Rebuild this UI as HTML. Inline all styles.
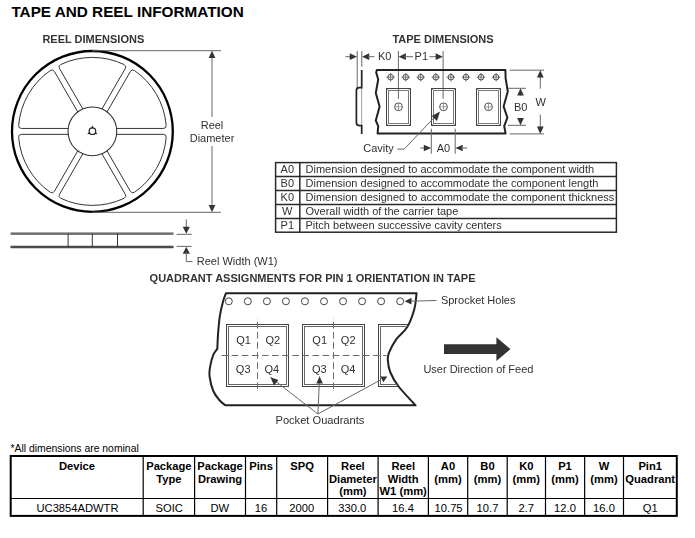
<!DOCTYPE html>
<html><head><meta charset="utf-8">
<style>
html,body{margin:0;padding:0;background:#fff;width:695px;height:538px;overflow:hidden}
svg.a,svg.b{display:block;position:absolute;left:0;top:0}
svg.a{will-change:transform}
text{font-family:"Liberation Sans", sans-serif}
.t{fill:#303030;font-size:11px}
.h{fill:#333;font-size:11px;font-weight:bold}
.tb{fill:#000;font-size:11.2px;font-weight:bold}
.td{fill:#000;font-size:11.2px}
.dl{stroke:#666;stroke-width:1;fill:none}
.ar{fill:#333}
</style></head><body>
<svg class="b" width="695" height="538" viewBox="0 0 695 538">
<text x="11.4" y="16.8" style="font-size:15.3px;font-weight:bold;fill:#000">TAPE AND REEL INFORMATION</text>
<!-- bottom table -->
<text x="10.5" y="452" style="font-size:10.4px;fill:#000">*All dimensions are nominal</text>
<g stroke="#000" fill="none">
<rect x="10.7" y="456" width="666.1" height="59.9" stroke-width="2"/>
<line x1="10.7" y1="498.5" x2="676.8" y2="498.5" stroke-width="1.2"/>
<g stroke-width="1.2">
<line x1="143.2" y1="456" x2="143.2" y2="515.9"/>
<line x1="194.6" y1="456" x2="194.6" y2="515.9"/>
<line x1="245.5" y1="456" x2="245.5" y2="515.9"/>
<line x1="276.7" y1="456" x2="276.7" y2="515.9"/>
<line x1="327.6" y1="456" x2="327.6" y2="515.9"/>
<line x1="378.1" y1="456" x2="378.1" y2="515.9"/>
<line x1="428.4" y1="456" x2="428.4" y2="515.9"/>
<line x1="467.7" y1="456" x2="467.7" y2="515.9"/>
<line x1="507.2" y1="456" x2="507.2" y2="515.9"/>
<line x1="545.5" y1="456" x2="545.5" y2="515.9"/>
<line x1="584.65" y1="456" x2="584.65" y2="515.9"/>
<line x1="623.5" y1="456" x2="623.5" y2="515.9"/>
</g></g>
<g class="tb" text-anchor="middle">
<text x="77" y="470.1">Device</text>
<text x="168.9" y="470.1">Package</text><text x="168.9" y="482.6">Type</text>
<text x="220" y="470.1">Package</text><text x="220" y="482.6">Drawing</text>
<text x="261.1" y="470.1">Pins</text>
<text x="302.1" y="470.1">SPQ</text>
<text x="352.9" y="470.1">Reel</text><text x="352.9" y="482.6">Diameter</text><text x="352.9" y="494.7">(mm)</text>
<text x="403.2" y="470.1">Reel</text><text x="403.2" y="482.6">Width</text><text x="403.2" y="494.7">W1 (mm)</text>
<text x="448" y="470.1">A0</text><text x="448" y="482.6">(mm)</text>
<text x="487.5" y="470.1">B0</text><text x="487.5" y="482.6">(mm)</text>
<text x="526.3" y="470.1">K0</text><text x="526.3" y="482.6">(mm)</text>
<text x="565" y="470.1">P1</text><text x="565" y="482.6">(mm)</text>
<text x="604" y="470.1">W</text><text x="604" y="482.6">(mm)</text>
<text x="650.2" y="470.1">Pin1</text><text x="650.2" y="482.6">Quadrant</text>
</g>
<g class="td" text-anchor="middle">
<text x="77.5" y="511.6">UC3854ADWTR</text>
<text x="169.2" y="511.6">SOIC</text>
<text x="219.8" y="511.6">DW</text>
<text x="261.1" y="511.6">16</text>
<text x="301.8" y="511.6">2000</text>
<text x="352.3" y="511.6">330.0</text>
<text x="403" y="511.6">16.4</text>
<text x="448.6" y="511.6">10.75</text>
<text x="487.5" y="511.6">10.7</text>
<text x="526.3" y="511.6">2.7</text>
<text x="565" y="511.6">12.0</text>
<text x="604" y="511.6">16.0</text>
<text x="650.2" y="511.6">Q1</text>
</g>
</svg>
<svg class="a" width="695" height="538" viewBox="0 0 695 538">
<text x="42.4" y="42.6" class="h">REEL DIMENSIONS</text>
<text x="392.4" y="42.6" class="h">TAPE DIMENSIONS</text>

<circle cx="92.4" cy="131.4" r="80.4" fill="none" stroke="#000" stroke-width="2.3"/>
<circle cx="92.4" cy="131.4" r="24.35" fill="none" stroke="#333" stroke-width="1.1"/>
<path d="M116.57,134.35 L163.34,134.35 Q166.34,134.35 166.16,137.34 A74,74 0 0 1 134.43,192.31 Q131.93,193.96 130.42,191.36 L107.04,150.86" fill="none" stroke="#333" stroke-width="1"/>
<path d="M101.93,153.81 L125.31,194.31 Q126.82,196.91 124.13,198.25 A74,74 0 0 1 60.67,198.25 Q57.98,196.91 59.49,194.31 L82.87,153.81" fill="none" stroke="#333" stroke-width="1"/>
<path d="M77.76,150.86 L54.38,191.36 Q52.87,193.96 50.37,192.31 A74,74 0 0 1 18.64,137.34 Q18.46,134.35 21.46,134.35 L68.23,134.35" fill="none" stroke="#333" stroke-width="1"/>
<path d="M68.23,128.45 L21.46,128.45 Q18.46,128.45 18.64,125.46 A74,74 0 0 1 50.37,70.49 Q52.87,68.84 54.38,71.44 L77.76,111.94" fill="none" stroke="#333" stroke-width="1"/>
<path d="M82.87,108.99 L59.49,68.49 Q57.98,65.89 60.67,64.55 A74,74 0 0 1 124.13,64.55 Q126.82,65.89 125.31,68.49 L101.93,108.99" fill="none" stroke="#333" stroke-width="1"/>
<path d="M107.04,111.94 L130.42,71.44 Q131.93,68.84 134.43,70.49 A74,74 0 0 1 166.16,125.46 Q166.34,128.45 163.34,128.45 L116.57,128.45" fill="none" stroke="#333" stroke-width="1"/>
<circle cx="92.4" cy="131.2" r="3.3" fill="none" stroke="#222" stroke-width="1.2"/>
<polygon points="93.5,128.2 91.3,128.2 92.4,125.2" fill="#222"/>
<polygon points="94.45,133.65 95.55,131.75 97.6,134.2" fill="#222"/>
<polygon points="89.25,131.75 90.35,133.65 87.2,134.2" fill="#222"/>

<!-- reel diameter dim -->
<line x1="92" y1="50.7" x2="221" y2="50.7" class="dl"/>
<line x1="92" y1="212.3" x2="221" y2="212.3" class="dl"/>
<line x1="212" y1="56" x2="212" y2="117" class="dl"/>
<line x1="212" y1="146" x2="212" y2="207" class="dl"/>
<polygon points="212.00,50.70 208.64,57.98 215.36,57.98" class="ar"/>
<polygon points="212.00,212.30 208.64,205.02 215.36,205.02" class="ar"/>
<text x="212" y="129" class="t" text-anchor="middle">Reel</text>
<text x="212" y="141.6" class="t" text-anchor="middle">Diameter</text>

<!-- reel side view -->
<defs><linearGradient id="bar" x1="0" y1="0" x2="0" y2="1"><stop offset="0" stop-color="#999"/><stop offset="1" stop-color="#444"/></linearGradient></defs>
<rect x="10.4" y="232.2" width="163.3" height="2.6" rx="1" fill="url(#bar)"/>
<rect x="10.4" y="245.8" width="163.3" height="2.4" rx="1" fill="#4a4a4a"/>
<line x1="68.1" y1="233.6" x2="68.1" y2="247" stroke="#333" stroke-width="1"/>
<line x1="92.3" y1="233.6" x2="92.3" y2="247" stroke="#333" stroke-width="1"/>
<line x1="117.5" y1="233.6" x2="117.5" y2="247" stroke="#333" stroke-width="1"/>
<!-- reel width dim -->
<line x1="186.3" y1="219.4" x2="186.3" y2="228" class="dl"/>
<polygon points="186.30,233.80 182.72,226.86 189.88,226.86" class="ar"/>
<line x1="176.6" y1="234.3" x2="191.7" y2="234.3" class="dl"/>
<line x1="176.6" y1="246.4" x2="191.7" y2="246.4" class="dl"/>
<polygon points="186.30,246.80 182.72,253.74 189.88,253.74" class="ar"/>
<polyline points="186.3,252 186.3,261.6 192.5,261.6" class="dl"/>
<text x="196.8" y="264.7" class="t">Reel Width (W1)</text>

<!-- tape dims -->
<!-- K0 -->
<line x1="345.4" y1="56.7" x2="351" y2="56.7" class="dl"/>
<polygon points="357.00,56.70 349.72,53.34 349.72,60.06" class="ar"/>
<line x1="357.2" y1="51" x2="357.2" y2="88" class="dl"/>
<line x1="361.8" y1="51" x2="361.8" y2="66.8" class="dl"/>
<polygon points="362.00,56.70 369.28,53.34 369.28,60.06" class="ar"/>
<line x1="368" y1="56.7" x2="374.3" y2="56.7" class="dl"/>
<text x="378" y="60.4" class="t">K0</text>
<!-- P1 -->
<line x1="398.4" y1="51" x2="398.4" y2="98.7" class="dl"/>
<line x1="443.1" y1="51" x2="443.1" y2="98.7" class="dl"/>
<polygon points="398.60,56.70 405.88,53.34 405.88,60.06" class="ar"/>
<line x1="404" y1="56.7" x2="413" y2="56.7" class="dl"/>
<line x1="429.5" y1="56.7" x2="437.5" y2="56.7" class="dl"/>
<polygon points="442.90,56.70 435.62,53.34 435.62,60.06" class="ar"/>
<text x="421.3" y="60.4" class="t" text-anchor="middle">P1</text>
<!-- side view -->
<line x1="361.7" y1="87.6" x2="361.7" y2="125.6" stroke="#888" stroke-width="0.8"/>
<path d="M361.7,70 V87.6 H359.2 Q356.4,87.6 356.4,90.4 V122.6 Q356.4,125.6 359.2,125.6 H361.7 V134" fill="none" stroke="#222" stroke-width="1.7"/>
<!-- tape body -->
<path d="M376.8,70.1 L505.4,70.1 L505.6,78.1 L507.8,91.5 L503.6,106.4 L507.4,117.7 L504.2,126.1 L505.6,133.5 L377.6,133.5 L378.2,126.1 L375.8,120.5 L379.6,106.4 L375.8,93 L378.2,79.5 L376.2,72.5 Z" fill="none" stroke="#222" stroke-width="2" stroke-linejoin="round"/>
<circle cx="390.6" cy="77.2" r="2.8" fill="none" stroke="#333" stroke-width="0.9"/>
<path d="M386.4,77.2 H394.8 M390.6,73 V81.4" stroke="#555" stroke-width="0.8"/>
<circle cx="405.67" cy="77.2" r="2.8" fill="none" stroke="#333" stroke-width="0.9"/>
<path d="M401.47,77.2 H409.87 M405.67,73 V81.4" stroke="#555" stroke-width="0.8"/>
<circle cx="420.74" cy="77.2" r="2.8" fill="none" stroke="#333" stroke-width="0.9"/>
<path d="M416.54,77.2 H424.94 M420.74,73 V81.4" stroke="#555" stroke-width="0.8"/>
<circle cx="435.81" cy="77.2" r="2.8" fill="none" stroke="#333" stroke-width="0.9"/>
<path d="M431.61,77.2 H440.01 M435.81,73 V81.4" stroke="#555" stroke-width="0.8"/>
<circle cx="450.88" cy="77.2" r="2.8" fill="none" stroke="#333" stroke-width="0.9"/>
<path d="M446.68,77.2 H455.08 M450.88,73 V81.4" stroke="#555" stroke-width="0.8"/>
<circle cx="465.95" cy="77.2" r="2.8" fill="none" stroke="#333" stroke-width="0.9"/>
<path d="M461.75,77.2 H470.15 M465.95,73 V81.4" stroke="#555" stroke-width="0.8"/>
<circle cx="481.02" cy="77.2" r="2.8" fill="none" stroke="#333" stroke-width="0.9"/>
<path d="M476.82,77.2 H485.22 M481.02,73 V81.4" stroke="#555" stroke-width="0.8"/>
<circle cx="496.09" cy="77.2" r="2.8" fill="none" stroke="#333" stroke-width="0.9"/>
<path d="M491.89,77.2 H500.29 M496.09,73 V81.4" stroke="#555" stroke-width="0.8"/>
<rect x="386.5" y="88.5" width="24" height="37" fill="none" stroke="#444" stroke-width="1"/>
<rect x="388.5" y="90.5" width="20" height="33" fill="none" stroke="#777" stroke-width="1"/>
<path d="M386.5,88.5 l2,2 M410.5,88.5 l-2,2 M386.5,125.5 l2,-2 M410.5,125.5 l-2,-2" stroke="#777" stroke-width="0.8"/>
<circle cx="398.5" cy="106.8" r="3.9" fill="none" stroke="#444" stroke-width="0.9"/>
<path d="M394.6,106.8 H402.4 M398.5,102.9 V110.7" stroke="#888" stroke-width="0.8"/>
<rect x="431.5" y="88.5" width="24" height="37" fill="none" stroke="#444" stroke-width="1"/>
<rect x="433.5" y="90.5" width="20" height="33" fill="none" stroke="#777" stroke-width="1"/>
<path d="M431.5,88.5 l2,2 M455.5,88.5 l-2,2 M431.5,125.5 l2,-2 M455.5,125.5 l-2,-2" stroke="#777" stroke-width="0.8"/>
<circle cx="443.5" cy="106.8" r="3.9" fill="none" stroke="#444" stroke-width="0.9"/>
<path d="M439.6,106.8 H447.4 M443.5,102.9 V110.7" stroke="#888" stroke-width="0.8"/>
<rect x="476.5" y="88.5" width="24" height="37" fill="none" stroke="#444" stroke-width="1"/>
<rect x="478.5" y="90.5" width="20" height="33" fill="none" stroke="#777" stroke-width="1"/>
<path d="M476.5,88.5 l2,2 M500.5,88.5 l-2,2 M476.5,125.5 l2,-2 M500.5,125.5 l-2,-2" stroke="#777" stroke-width="0.8"/>
<circle cx="488.5" cy="106.8" r="3.9" fill="none" stroke="#444" stroke-width="0.9"/>
<path d="M484.6,106.8 H492.4 M488.5,102.9 V110.7" stroke="#888" stroke-width="0.8"/>
<!-- B0 -->
<line x1="508" y1="88.3" x2="526" y2="88.3" class="dl"/>
<line x1="508" y1="125.3" x2="526" y2="125.3" class="dl"/>
<line x1="520.5" y1="94" x2="520.5" y2="95.6" class="dl"/>
<line x1="520.5" y1="118" x2="520.5" y2="119.6" class="dl"/>
<polygon points="520.50,88.30 517.14,95.58 523.86,95.58" class="ar"/>
<polygon points="520.50,125.30 517.14,118.02 523.86,118.02" class="ar"/>
<text x="520.7" y="111.1" class="t" text-anchor="middle">B0</text>
<!-- W -->
<line x1="509.6" y1="70.2" x2="544.1" y2="70.2" class="dl"/>
<line x1="509.6" y1="133.9" x2="544.1" y2="133.9" class="dl"/>
<line x1="540.3" y1="76" x2="540.3" y2="88.7" class="dl"/>
<line x1="540.3" y1="114.6" x2="540.3" y2="128" class="dl"/>
<polygon points="540.30,70.20 536.94,77.48 543.66,77.48" class="ar"/>
<polygon points="540.30,133.90 536.94,126.62 543.66,126.62" class="ar"/>
<text x="540.8" y="106.3" class="t" text-anchor="middle">W</text>
<!-- Cavity -->
<text x="363.3" y="151.6" class="t">Cavity</text>
<polyline points="397.3,149.1 404.2,149.1 436,115.6" class="dl"/>
<polygon points="440.00,111.40 431.71,116.10 436.98,120.92" class="ar"/>
<!-- A0 -->
<line x1="431.3" y1="128.7" x2="431.3" y2="153.7" class="dl"/>
<line x1="455.2" y1="128.7" x2="455.2" y2="153.7" class="dl"/>
<line x1="420.3" y1="148" x2="426" y2="148" class="dl"/>
<polygon points="431.10,148.00 423.82,144.64 423.82,151.36" class="ar"/>
<polygon points="455.40,148.00 462.68,144.64 462.68,151.36" class="ar"/>
<line x1="461" y1="148" x2="467.3" y2="148" class="dl"/>
<text x="443.5" y="151.6" class="t" text-anchor="middle">A0</text>

<!-- description table -->
<g stroke="#2a2a2a" stroke-width="1.5" fill="none">
<rect x="275.6" y="162.6" width="340.8" height="69.6"/>
<line x1="275.6" y1="176.5" x2="616.4" y2="176.5"/>
<line x1="275.6" y1="190.4" x2="616.4" y2="190.4"/>
<line x1="275.6" y1="204.5" x2="616.4" y2="204.5"/>
<line x1="275.6" y1="218.5" x2="616.4" y2="218.5"/>
<line x1="299.8" y1="162.6" x2="299.8" y2="232.2"/>
</g>
<g class="t">
<text x="287.3" y="173.2" text-anchor="middle">A0</text>
<text x="287.3" y="187.0" text-anchor="middle">B0</text>
<text x="287.3" y="200.8" text-anchor="middle">K0</text>
<text x="287.3" y="214.7" text-anchor="middle">W</text>
<text x="287.3" y="228.6" text-anchor="middle">P1</text>
<text x="305.5" y="173.2">Dimension designed to accommodate the component width</text>
<text x="305.5" y="187.0">Dimension designed to accommodate the component length</text>
<text x="305.5" y="200.8">Dimension designed to accommodate the component thickness</text>
<text x="305.5" y="214.7">Overall width of the carrier tape</text>
<text x="305.5" y="228.6">Pitch between successive cavity centers</text>
</g>

<!-- quadrant -->
<text x="149.6" y="281.8" class="h">QUADRANT ASSIGNMENTS FOR PIN 1 ORIENTATION IN TAPE</text>
<clipPath id="qclip"><path d="M226,293.2 L416.6,293.2 C416.22,295.87 415.88,303.52 414.3,309.2 C412.72,314.88 410.12,322.28 407.1,327.3 C404.08,332.32 399.22,335.08 396.2,339.3 C393.18,343.52 390.4,349.17 389,352.6 C387.6,356.03 387.6,356.67 387.8,359.9 C388,363.13 388.4,367.57 390.2,372 C392,376.43 394.37,380.95 398.6,386.5 C402.83,392.05 412.77,402.17 415.6,405.3 L225.3,405.3 C224.3,404.42 221.3,402.38 219.3,400 C217.3,397.62 214.92,394.9 213.3,391 C211.68,387.1 210.13,380.62 209.6,376.6 C209.07,372.58 209.48,370.52 210.1,366.9 C210.72,363.28 212.1,357.9 213.3,354.9 C214.5,351.9 216.63,349.9 217.3,348.9 C217.43,346.28 217.68,338.63 218.1,333.2 C218.52,327.77 219,321.52 219.8,316.3 C220.6,311.08 221.87,305.75 222.9,301.9 C223.93,298.05 225.48,294.65 226,293.2 Z"/></clipPath><path d="M226,293.2 L416.6,293.2 C416.22,295.87 415.88,303.52 414.3,309.2 C412.72,314.88 410.12,322.28 407.1,327.3 C404.08,332.32 399.22,335.08 396.2,339.3 C393.18,343.52 390.4,349.17 389,352.6 C387.6,356.03 387.6,356.67 387.8,359.9 C388,363.13 388.4,367.57 390.2,372 C392,376.43 394.37,380.95 398.6,386.5 C402.83,392.05 412.77,402.17 415.6,405.3 L225.3,405.3 C224.3,404.42 221.3,402.38 219.3,400 C217.3,397.62 214.92,394.9 213.3,391 C211.68,387.1 210.13,380.62 209.6,376.6 C209.07,372.58 209.48,370.52 210.1,366.9 C210.72,363.28 212.1,357.9 213.3,354.9 C214.5,351.9 216.63,349.9 217.3,348.9 C217.43,346.28 217.68,338.63 218.1,333.2 C218.52,327.77 219,321.52 219.8,316.3 C220.6,311.08 221.87,305.75 222.9,301.9 C223.93,298.05 225.48,294.65 226,293.2 Z" fill="none" stroke="#222" stroke-width="2" stroke-linejoin="round"/>
<circle cx="228.8" cy="301.3" r="3.5" fill="none" stroke="#444" stroke-width="1"/>
<circle cx="247.84" cy="301.3" r="3.5" fill="none" stroke="#444" stroke-width="1"/>
<circle cx="266.88" cy="301.3" r="3.5" fill="none" stroke="#444" stroke-width="1"/>
<circle cx="285.92" cy="301.3" r="3.5" fill="none" stroke="#444" stroke-width="1"/>
<circle cx="304.96" cy="301.3" r="3.5" fill="none" stroke="#444" stroke-width="1"/>
<circle cx="324" cy="301.3" r="3.5" fill="none" stroke="#444" stroke-width="1"/>
<circle cx="343.04" cy="301.3" r="3.5" fill="none" stroke="#444" stroke-width="1"/>
<circle cx="362.08" cy="301.3" r="3.5" fill="none" stroke="#444" stroke-width="1"/>
<circle cx="381.12" cy="301.3" r="3.5" fill="none" stroke="#444" stroke-width="1"/>
<circle cx="400.16" cy="301.3" r="3.5" fill="none" stroke="#444" stroke-width="1"/>
<g clip-path="url(#qclip)"><rect x="226.5" y="324.5" width="62" height="62" fill="none" stroke="#444" stroke-width="1"/>
<rect x="228.5" y="326.5" width="58" height="58" fill="none" stroke="#666" stroke-width="1"/>
<rect x="302.5" y="324.5" width="62" height="62" fill="none" stroke="#444" stroke-width="1"/>
<rect x="304.5" y="326.5" width="58" height="58" fill="none" stroke="#666" stroke-width="1"/>
<rect x="378.5" y="324.5" width="62" height="62" fill="none" stroke="#444" stroke-width="1"/>
<rect x="380.5" y="326.5" width="58" height="58" fill="none" stroke="#666" stroke-width="1"/>
<line x1="257.5" y1="318" x2="257.5" y2="392.4" stroke="#6a6a6a" stroke-width="1" stroke-dasharray="6.6,3.5" stroke-dashoffset="6.2"/>
<line x1="333.5" y1="318" x2="333.5" y2="392.4" stroke="#6a6a6a" stroke-width="1" stroke-dasharray="6.6,3.5" stroke-dashoffset="6.2"/>
<line x1="221.6" y1="355.5" x2="386.3" y2="355.5" stroke="#6a6a6a" stroke-width="1" stroke-dasharray="6.6,3.5"/></g>
<g class="t">
<text x="243.5" y="344.3" text-anchor="middle">Q1</text>
<text x="272.9" y="344.3" text-anchor="middle">Q2</text>
<text x="243.2" y="373" text-anchor="middle">Q3</text>
<text x="271.9" y="373" text-anchor="middle">Q4</text>
<text x="319.7" y="344.3" text-anchor="middle">Q1</text>
<text x="348.2" y="344.3" text-anchor="middle">Q2</text>
<text x="319.4" y="373" text-anchor="middle">Q3</text>
<text x="348" y="373" text-anchor="middle">Q4</text>
</g>
<polyline points="270.5,377.3 317.9,414 319.6,376.4" class="dl"/>
<polyline points="317.9,414 381,379.7" class="dl"/>
<polygon points="270.50,377.30 278.45,379.99 273.97,385.59" class="ar"/>
<polygon points="319.60,376.40 316.24,383.57 322.96,383.57" class="ar"/>
<polygon points="383.30,382.20 380.39,376.49 387.33,376.49" class="ar"/>
<svg x="0" y="0" width="695" height="423.9" overflow="hidden"><text x="275.5" y="423.7" class="t" style="font-size:11.1px">Pocket Quadrants</text></svg>
<line x1="410" y1="301.2" x2="436.5" y2="300.5" class="dl"/>
<polygon points="404.60,301.20 411.50,297.84 411.50,304.56" class="ar"/>
<text x="440.9" y="303.9" class="t">Sprocket Holes</text>
<polygon points="444,344.3 496.4,344.3 496.4,337.2 510.4,349.1 496.4,361.1 496.4,354 444,354" fill="#333"/>
<text x="423.4" y="372.7" class="t">User Direction of Feed</text>

</svg>

</body></html>
